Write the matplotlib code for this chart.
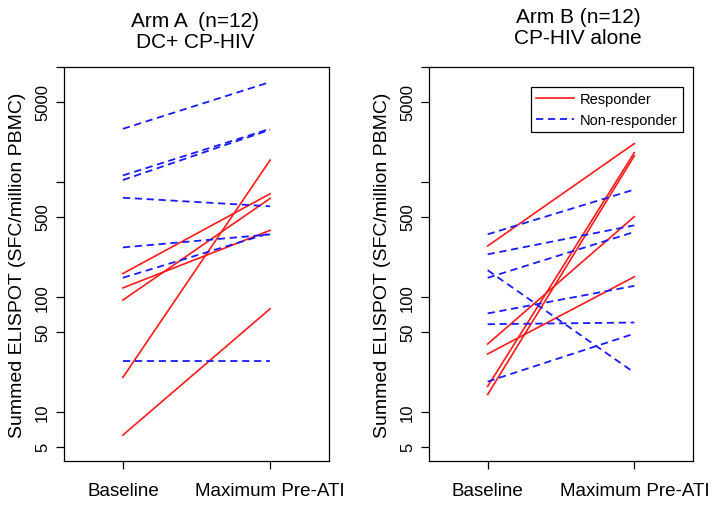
import matplotlib
matplotlib.use('Agg')
import matplotlib.pyplot as plt
from matplotlib.lines import Line2D

plt.rcParams['font.family'] = ['Liberation Sans', 'DejaVu Sans']

time_points = [1, 2]
time_labels = ['Baseline', 'Maximum Pre-ATI']

y_ticks = [5, 10, 50, 100, 500, 1000, 5000, 10000]
y_tick_labels = ['5', '10', '50', '100', '500', '', '5000', '']

# Arm A: DC+ CP-HIV
arm_a_resp_baseline = [160, 120, 94, 20, 6.3]
arm_a_resp_max = [790, 380, 720, 1550, 79]
arm_a_nonresp_baseline = [2900, 1140, 1040, 730, 270, 147, 28]
arm_a_nonresp_max = [7400, 2900, 2850, 615, 350, 360, 28]

# Arm B: CP-HIV alone
arm_b_resp_baseline = [278, 39, 32, 16.7, 14.2]
arm_b_resp_max = [2160, 500, 150, 1800, 1690]
arm_b_nonresp_baseline = [351, 235, 171, 147, 72, 58, 18.4]
arm_b_nonresp_max = [860, 420, 22, 368, 125, 60, 48]

RED = '#ff1a1a'
BLUE = '#1a1aff'
DASH = (0, (4, 2.6))

fig = plt.figure(figsize=(7.23, 5.06), dpi=100)
ax1 = fig.add_axes([64 / 723, 44 / 506, 265 / 723, 394 / 506])
ax2 = fig.add_axes([429 / 723, 44 / 506, 264 / 723, 394 / 506])


def draw_arm(ax, resp_base, resp_max, non_base, non_max):
    for b, m in zip(resp_base, resp_max):
        ax.plot(time_points, [b, m], color=RED, lw=1.2)
    for b, m in zip(non_base, non_max):
        ax.plot(time_points, [b, m], color=BLUE, lw=1.3, linestyle=DASH)
    ax.set_yscale('log')
    ax.set_ylim(3.75, 10000)
    ax.set_xlim(0.6, 2.4)
    ax.set_yticks(y_ticks)
    ax.set_yticklabels(y_tick_labels, rotation=90, va='center')
    ax.minorticks_off()
    ax.set_xticks(time_points)
    ax.set_xticklabels(time_labels, fontsize=13.5)
    ax.tick_params(axis='y', length=6, width=0.9, labelsize=12, pad=4)
    ax.tick_params(axis='x', length=6, width=0.9, pad=9)
    for s in ax.spines.values():
        s.set_linewidth(0.9)
    ax.set_ylabel('Summed ELISPOT (SFC/million PBMC)', fontsize=14)
    ax.yaxis.set_label_coords(-0.145, 0.5)


draw_arm(ax1, arm_a_resp_baseline, arm_a_resp_max, arm_a_nonresp_baseline, arm_a_nonresp_max)
draw_arm(ax2, arm_b_resp_baseline, arm_b_resp_max, arm_b_nonresp_baseline, arm_b_nonresp_max)

fig.text(195 / 723, 1 - 32 / 506, 'Arm A  (n=12)\nDC+ CP-HIV', ha='center', va='center',
         fontsize=15, linespacing=1.15)
fig.text(578 / 723, 1 - 28 / 506, 'Arm B (n=12)\nCP-HIV alone', ha='center', va='center',
         fontsize=15, linespacing=1.15)

handles = [Line2D([], [], color=RED, lw=1.2),
           Line2D([], [], color=BLUE, lw=1.3, linestyle=DASH)]
leg = ax2.legend(handles, ['Responder', 'Non-responder'], loc='upper right',
                 bbox_to_anchor=(0.962, 0.949), borderaxespad=0, fancybox=False,
                 framealpha=1, edgecolor='black', fontsize=10.5, handlelength=2.6,
                 labelspacing=0.45, borderpad=0.35, handletextpad=0.4)
leg.get_frame().set_linewidth(0.9)

fig.savefig('out.png', dpi=100)
